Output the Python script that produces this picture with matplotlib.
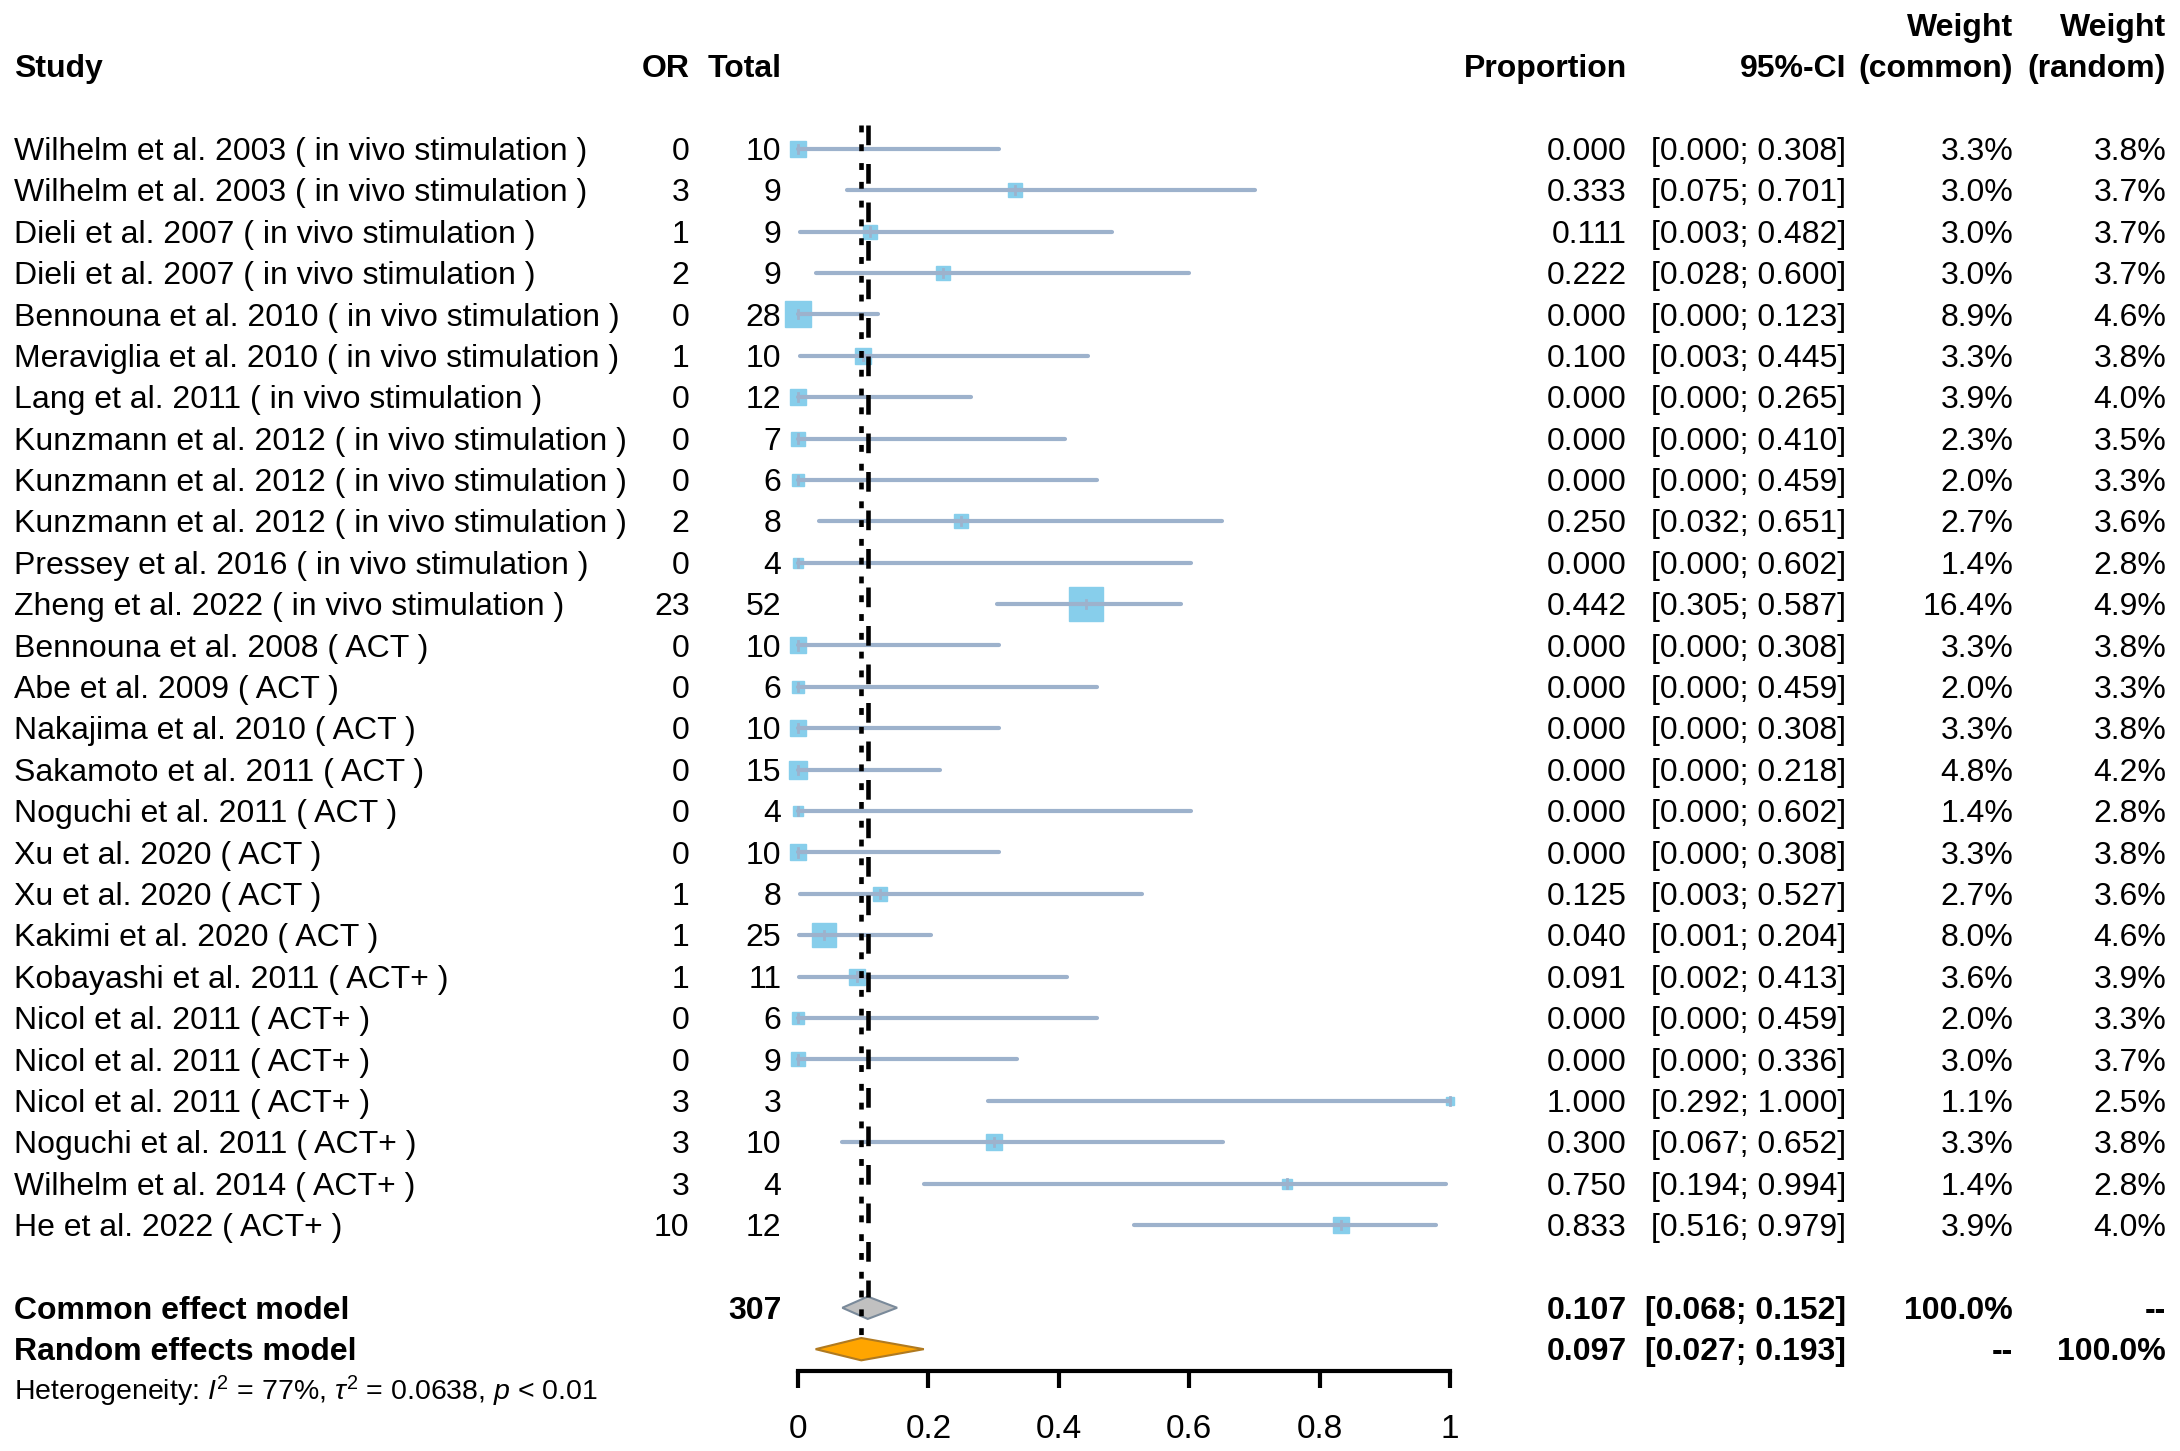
import matplotlib
matplotlib.use("Agg")
import matplotlib.pyplot as plt
import matplotlib.transforms as mtransforms
from matplotlib.patches import Polygon
import numpy as np

plt.rcParams['font.family'] = ['Liberation Sans', 'DejaVu Sans']
plt.rcParams['mathtext.fontset'] = 'custom'
plt.rcParams['mathtext.rm'] = 'Liberation Sans'
plt.rcParams['mathtext.it'] = 'Liberation Sans:italic'

# Data
studies = [
    "Wilhelm et al. 2003 ( in vivo stimulation )",
    "Wilhelm et al. 2003 ( in vivo stimulation )",
    "Dieli et al. 2007 ( in vivo stimulation )",
    "Dieli et al. 2007 ( in vivo stimulation )",
    "Bennouna et al. 2010 ( in vivo stimulation )",
    "Meraviglia et al. 2010 ( in vivo stimulation )",
    "Lang et al. 2011 ( in vivo stimulation )",
    "Kunzmann et al. 2012 ( in vivo stimulation )",
    "Kunzmann et al. 2012 ( in vivo stimulation )",
    "Kunzmann et al. 2012 ( in vivo stimulation )",
    "Pressey et al. 2016 ( in vivo stimulation )",
    "Zheng et al. 2022 ( in vivo stimulation )",
    "Bennouna et al. 2008 ( ACT )",
    "Abe et al. 2009 ( ACT )",
    "Nakajima et al. 2010 ( ACT )",
    "Sakamoto et al. 2011 ( ACT )",
    "Noguchi et al. 2011 ( ACT )",
    "Xu et al. 2020 ( ACT )",
    "Xu et al. 2020 ( ACT )",
    "Kakimi et al. 2020 ( ACT )",
    "Kobayashi et al. 2011 ( ACT+ )",
    "Nicol et al. 2011 ( ACT+ )",
    "Nicol et al. 2011 ( ACT+ )",
    "Nicol et al. 2011 ( ACT+ )",
    "Noguchi et al. 2011 ( ACT+ )",
    "Wilhelm et al. 2014 ( ACT+ )",
    "He et al. 2022 ( ACT+ )",
]
events = [0, 3, 1, 2, 0, 1, 0, 0, 0, 2, 0, 23, 0, 0, 0, 0, 0, 0, 1, 1, 1, 0, 0, 3, 3, 3, 10]
totals = [10, 9, 9, 9, 28, 10, 12, 7, 6, 8, 4, 52, 10, 6, 10, 15, 4, 10, 8, 25, 11, 6, 9, 3, 10, 4, 12]
prop = [0.000, 0.333, 0.111, 0.222, 0.000, 0.100, 0.000, 0.000, 0.000, 0.250, 0.000, 0.442,
        0.000, 0.000, 0.000, 0.000, 0.000, 0.000, 0.125, 0.040, 0.091, 0.000, 0.000, 1.000,
        0.300, 0.750, 0.833]
ci_lo = [0.000, 0.075, 0.003, 0.028, 0.000, 0.003, 0.000, 0.000, 0.000, 0.032, 0.000, 0.305,
         0.000, 0.000, 0.000, 0.000, 0.000, 0.000, 0.003, 0.001, 0.002, 0.000, 0.000, 0.292,
         0.067, 0.194, 0.516]
ci_hi = [0.308, 0.701, 0.482, 0.600, 0.123, 0.445, 0.265, 0.410, 0.459, 0.651, 0.602, 0.587,
         0.308, 0.459, 0.308, 0.218, 0.602, 0.308, 0.527, 0.204, 0.413, 0.459, 0.336, 1.000,
         0.652, 0.994, 0.979]
w_common = [3.3, 3.0, 3.0, 3.0, 8.9, 3.3, 3.9, 2.3, 2.0, 2.7, 1.4, 16.4, 3.3, 2.0, 3.3, 4.8,
            1.4, 3.3, 2.7, 8.0, 3.6, 2.0, 3.0, 1.1, 3.3, 1.4, 3.9]
w_random = [3.8, 3.7, 3.7, 3.7, 4.6, 3.8, 4.0, 3.5, 3.3, 3.6, 2.8, 4.9, 3.8, 3.3, 3.8, 4.2,
            2.8, 3.8, 3.6, 4.6, 3.9, 3.3, 3.7, 2.5, 3.8, 2.8, 4.0]

total_n = 307
common_est, common_lo, common_hi = 0.107, 0.068, 0.152
random_est, random_lo, random_hi = 0.097, 0.027, 0.193
xticks = [0, 0.2, 0.4, 0.6, 0.8, 1]
xticklabels = ["0", "0.2", "0.4", "0.6", "0.8", "1"]

# Figure
fig = plt.figure(figsize=(21.8, 14.51), dpi=100)
ax = fig.add_axes([0, 0, 1, 1])
x0, x1 = 798 / 2180, 1450 / 2180          # figure fraction of 0 and 1
ax.set_xlim(-x0 / (x1 - x0), (1 - x0) / (x1 - x0))
ax.set_ylim(32.46, -2.594)
ax.set_facecolor('none')
for s in ['top', 'left', 'right']:
    ax.spines[s].set_visible(False)
ax.spines['bottom'].set_position(('data', 30.53))
ax.spines['bottom'].set_bounds(0, 1)
ax.spines['bottom'].set_linewidth(3)
ax.set_yticks([])
ax.set_xticks(xticks)
ax.set_xticklabels(xticklabels)
ax.tick_params(axis='x', direction='out', length=12, width=3, pad=19, labelsize=24)

tr = mtransforms.blended_transform_factory(fig.transFigure, ax.transData)
fs = 23
base = 0.27   # baseline offset within a row
col_study = 10 / 1568
col_or = 496 / 1568
col_tot = 562 / 1568
col_prop = 1170 / 1568
col_ci = 1328 / 1568
col_wc = 1448 / 1568
col_wr = 1558 / 1568

line_col = '#9db2cc'
sq_col = '#87ceeb'

# Headers
hdr = dict(transform=tr, fontsize=fs, fontweight='bold', va='baseline')
ax.text(col_study, -1 + base, "Study", ha='left', **hdr)
ax.text(col_or, -1 + base, "OR", ha='right', **hdr)
ax.text(col_tot, -1 + base, "Total", ha='right', **hdr)
ax.text(col_prop, -1 + base, "Proportion", ha='right', **hdr)
ax.text(col_ci, -1 + base, "95%-CI", ha='right', **hdr)
ax.text(col_wc, -2 + base, "Weight", ha='right', **hdr)
ax.text(col_wc, -1 + base, "(common)", ha='right', **hdr)
ax.text(col_wr, -2 + base, "Weight", ha='right', **hdr)
ax.text(col_wr, -1 + base, "(random)", ha='right', **hdr)

rows = np.arange(1, len(studies) + 1)
txt = dict(transform=tr, fontsize=fs, va='baseline')
for i, r in enumerate(rows):
    yb = r + base
    ax.text(col_study, yb, studies[i], ha='left', **txt)
    ax.text(col_or, yb, str(events[i]), ha='right', **txt)
    ax.text(col_tot, yb, str(totals[i]), ha='right', **txt)
    ax.text(col_prop, yb, f"{prop[i]:.3f}", ha='right', **txt)
    ax.text(col_ci, yb, f"[{ci_lo[i]:.3f}; {ci_hi[i]:.3f}]", ha='right', **txt)
    ax.text(col_wc, yb, f"{w_common[i]:.1f}%", ha='right', **txt)
    ax.text(col_wr, yb, f"{w_random[i]:.1f}%", ha='right', **txt)

    # square, then CI line and estimate tick on top
    size = 25 * np.sqrt(w_common[i] / max(w_common))
    ax.plot(prop[i], r, marker='s', ms=size, color=sq_col, mec=sq_col, zorder=2)
    ax.plot([ci_lo[i], ci_hi[i]], [r, r], color=line_col, lw=3, solid_capstyle='round', zorder=3)
    ax.plot([prop[i], prop[i]], [r - 0.1, r + 0.1], color=line_col, lw=2, zorder=3)

# Summary rows
r_com = len(studies) + 2
r_ran = r_com + 1
bold = dict(transform=tr, fontsize=fs, va='baseline', fontweight='bold')
ax.text(col_study, r_com + base, "Common effect model", ha='left', **bold)
ax.text(col_tot, r_com + base, str(total_n), ha='right', **bold)
ax.text(col_prop, r_com + base, f"{common_est:.3f}", ha='right', **bold)
ax.text(col_ci, r_com + base, f"[{common_lo:.3f}; {common_hi:.3f}]", ha='right', **bold)
ax.text(col_wc, r_com + base, "100.0%", ha='right', **bold)
ax.text(col_wr, r_com + base, "--", ha='right', **bold)

ax.text(col_study, r_ran + base, "Random effects model", ha='left', **bold)
ax.text(col_prop, r_ran + base, f"{random_est:.3f}", ha='right', **bold)
ax.text(col_ci, r_ran + base, f"[{random_lo:.3f}; {random_hi:.3f}]", ha='right', **bold)
ax.text(col_wc, r_ran + base, "--", ha='right', **bold)
ax.text(col_wr, r_ran + base, "100.0%", ha='right', **bold)

ax.text(col_study, r_ran + 1 + 0.24,
        r"Heterogeneity: $I^2$ = 77%, $\tau^2$ = 0.0638, $p$ < 0.01",
        ha='left', transform=tr, fontsize=20.5, va='baseline')

# Diamonds
h = 0.27
ax.add_patch(Polygon([[common_lo, r_com], [common_est, r_com - h], [common_hi, r_com],
                      [common_est, r_com + h]], closed=True, facecolor='#c0c0c0',
                     edgecolor='#7a8a9a', lw=1.5, zorder=3))
ax.add_patch(Polygon([[random_lo, r_ran], [random_est, r_ran - h], [random_hi, r_ran],
                      [random_est, r_ran + h]], closed=True, facecolor='#ffa500',
                     edgecolor='#b07a20', lw=1.5, zorder=3))

# Reference lines: common effect dashed, random effects dotted
ax.plot([common_est, common_est], [0.43, r_com - h], color='black', lw=3.3,
        ls=(0, (4.3, 4.1)), zorder=5)
ax.plot([random_est, random_est], [0.43, r_ran - h], color='black', lw=3.3,
        ls=(0, (1.5, 2.6)), zorder=5)

fig.savefig("out.png", dpi=100)
